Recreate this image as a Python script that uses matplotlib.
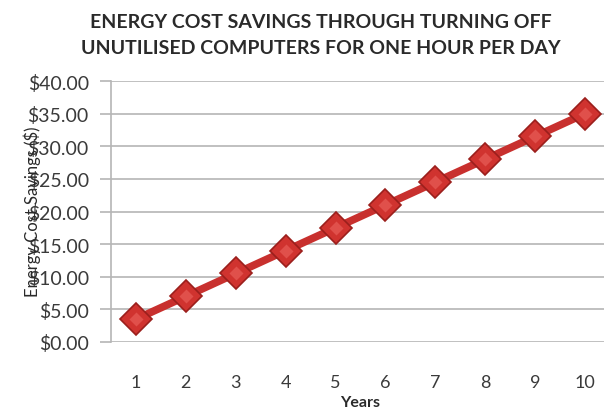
import numpy as np
import matplotlib.pyplot as plt
from matplotlib.ticker import FuncFormatter

years = [1, 2, 3, 4, 5, 6, 7, 8, 9, 10]
savings = [3.5, 7.0, 10.5, 14.0, 17.5, 21.0, 24.5, 28.0, 31.5, 35.0]
y_ticks = [0, 5, 10, 15, 20, 25, 30, 35, 40]

plt.rcParams['font.family'] = ['Lato', 'DejaVu Sans']

fig = plt.figure(figsize=(6.04, 4.14), dpi=100)
ax = fig.add_axes([111 / 604, (414 - 343) / 414, 499 / 604, 261 / 414])

ax.plot(years, savings, color='#c8302e', lw=5.5, solid_capstyle='round', zorder=3)
ax.plot(years, savings, ls='none', marker='D', ms=16, mfc='#d0332f',
        mec='#9b1f1c', mew=1.2, zorder=4)
# small highlight on each diamond
ax.plot(years, savings, ls='none', marker='D', ms=7, mfc='#e0504b',
        mec='none', zorder=5)

ax.set_xlim(0.5, 10.5)
ax.set_ylim(0, 40)
ax.set_yticks(y_ticks)
ax.yaxis.set_major_formatter(FuncFormatter(lambda v, p: f'${v:.2f}'))
ax.set_xticks(years)
ax.grid(axis='y', color='#b5b5b5', lw=1.2)
ax.set_axisbelow(True)
for s in ['top', 'right', 'bottom']:
    ax.spines[s].set_visible(False)
ax.spines['left'].set_color('#b5b5b5')
ax.spines['left'].set_linewidth(1.2)
ax.tick_params(axis='y', length=8, color='#b5b5b5', width=1.2, labelsize=14,
               labelcolor='#3a3a3a', pad=8)
ax.tick_params(axis='x', length=0, labelsize=13, labelcolor='#3a3a3a', pad=23)

ax.set_xlabel('Years', fontsize=11.5, fontweight='bold', color='#2a2a2a', labelpad=4)
fig.text(32 / 604, 1 - 212 / 414, 'Energy Cost Savings ($)', rotation=90,
         ha='center', va='center', fontsize=12, color='#2a2a2a')

fig.text(321 / 604, 1 - 22 / 414, 'ENERGY COST SAVINGS THROUGH TURNING OFF',
         ha='center', va='center', fontsize=14, fontweight='bold', color='#2a2a2a')
fig.text(321 / 604, 1 - 48 / 414, 'UNUTILISED COMPUTERS FOR ONE HOUR PER DAY',
         ha='center', va='center', fontsize=14, fontweight='bold', color='#2a2a2a')

fig.savefig('out.png', dpi=100)
